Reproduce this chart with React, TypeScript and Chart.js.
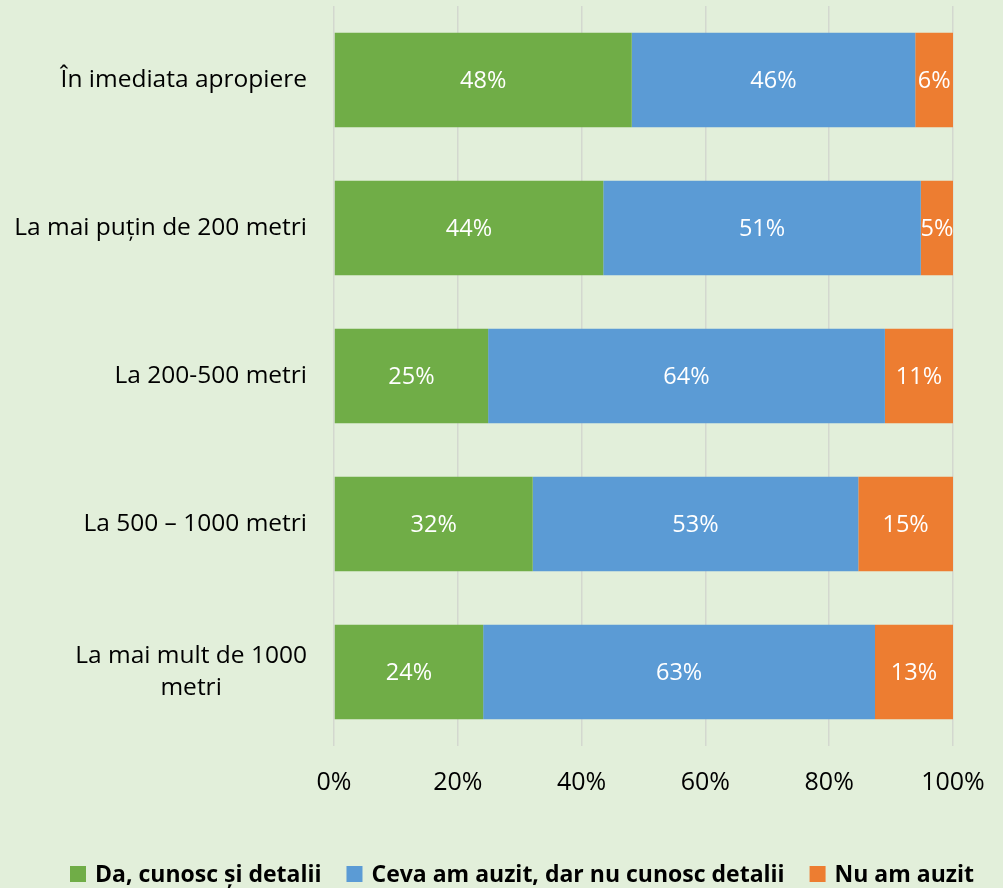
import React, { useEffect, useRef } from "react";
import { Chart, registerables } from "chart.js";

Chart.register(...registerables);

const categories: string[][] = [
  ["În imediata apropiere"],
  ["La mai puțin de 200 metri"],
  ["La 200-500 metri"],
  ["La 500 – 1000 metri"],
  ["La mai mult de 1000", "metri"],
];
const seriesNames = [
  "Da, cunosc și detalii",
  "Ceva am auzit, dar nu cunosc detalii",
  "Nu am auzit",
];
const seriesColors = ["#70AD47", "#5B9BD5", "#ED7D31"];
const daValues = [48.1, 43.5, 24.9, 32.1, 24.1];
const cevaValues = [45.8, 51.3, 64.1, 52.6, 63.3];
const nuValues = [6.1, 5.2, 11.0, 15.3, 12.6];
const xTickValues = [0, 20, 40, 60, 80, 100];

const FONT = "'Open Sans', sans-serif";
const BG = "#E2EFDA";

const yLabelsPlugin = {
  id: "yLabels",
  afterDraw(chart: any) {
    const ctx = chart.ctx;
    const y = chart.scales.y;
    const rightEdge = 307;
    const fs = 24.5;
    const lh = 32;
    ctx.save();
    ctx.font = `${fs}px ${FONT}`;
    ctx.fillStyle = "#000";
    ctx.textBaseline = "middle";
    ctx.textAlign = "center";
    categories.forEach((lines, i) => {
      const cy = y.getPixelForValue(i);
      const maxW = Math.max(...lines.map((l) => ctx.measureText(l).width));
      const cx = rightEdge - maxW / 2;
      const startY = cy - ((lines.length - 1) * lh) / 2;
      lines.forEach((l, j) => ctx.fillText(l, cx, startY + j * lh));
    });
    ctx.restore();
  },
};

const dataLabelsPlugin = {
  id: "dataLabels",
  afterDatasetsDraw(chart: any) {
    const ctx = chart.ctx;
    ctx.save();
    ctx.font = `23.5px ${FONT}`;
    ctx.fillStyle = "#FFFFFF";
    ctx.textAlign = "center";
    ctx.textBaseline = "middle";
    chart.data.datasets.forEach((ds: any, di: number) => {
      const meta = chart.getDatasetMeta(di);
      meta.data.forEach((el: any, i: number) => {
        const v = ds.data[i];
        const cx = (el.x + el.base) / 2;
        ctx.fillText(`${Math.round(v)}%`, cx, el.y + 1);
      });
    });
    ctx.restore();
  },
};

const legendPlugin = {
  id: "customLegend",
  afterDraw(chart: any) {
    const ctx = chart.ctx;
    const box = 16;
    const gapBoxText = 9;
    const gapItems = 25;
    const cy = 874;
    let x = 70;
    ctx.save();
    ctx.font = `bold 23px ${FONT}`;
    ctx.textBaseline = "middle";
    ctx.textAlign = "left";
    chart.data.datasets.forEach((ds: any) => {
      ctx.fillStyle = ds.backgroundColor;
      ctx.fillRect(x, cy - box / 2, box, box);
      x += box + gapBoxText;
      ctx.fillStyle = "#000";
      ctx.fillText(ds.label, x, cy + 1);
      x += ctx.measureText(ds.label).width + gapItems;
    });
    ctx.restore();
  },
};

export default function App() {
  const ref = useRef<HTMLCanvasElement>(null);
  useEffect(() => {
    document.body.style.margin = "0";
    const chart = new Chart(ref.current as HTMLCanvasElement, {
      type: "bar",
      data: {
        labels: categories.map((c) => c.join(" ")),
        datasets: [
          { label: seriesNames[0], data: daValues, backgroundColor: seriesColors[0] },
          { label: seriesNames[1], data: cevaValues, backgroundColor: seriesColors[1] },
          { label: seriesNames[2], data: nuValues, backgroundColor: seriesColors[2] },
        ],
      },
      options: {
        indexAxis: "y",
        responsive: false,
        animation: false,
        layout: { padding: { top: 6, right: 50, left: 0, bottom: 58 } },
        datasets: { bar: { barPercentage: 0.64, categoryPercentage: 1 } },
        scales: {
          x: {
            stacked: true,
            min: 0,
            max: 100,
            afterBuildTicks: (scale: any) => {
              scale.ticks = xTickValues.map((v) => ({ value: v }));
            },
            afterFit: (scale: any) => {
              scale.height = 84;
              scale.paddingLeft = 0;
              scale.paddingRight = 0;
            },
            border: { display: false },
            grid: { color: "#D3D8CF", lineWidth: 1.5, drawTicks: false },
            ticks: {
              padding: 22,
              color: "#000",
              font: { family: FONT, size: 25 },
              callback: (v: any) => `${v}%`,
            },
          },
          y: {
            stacked: true,
            afterFit: (scale: any) => {
              scale.width = 334;
            },
            border: { display: false },
            grid: { display: false },
            ticks: { display: false },
          },
        },
        plugins: {
          legend: { display: false },
          tooltip: { enabled: false },
        },
      },
      plugins: [yLabelsPlugin, dataLabelsPlugin, legendPlugin],
    } as any);
    return () => chart.destroy();
  }, []);
  return (
    <div style={{ position: "fixed", left: 0, top: 0, width: 1003, height: 888, background: BG }}>
      <canvas ref={ref} width={1003} height={888} style={{ width: 1003, height: 888 }} />
    </div>
  );
}
